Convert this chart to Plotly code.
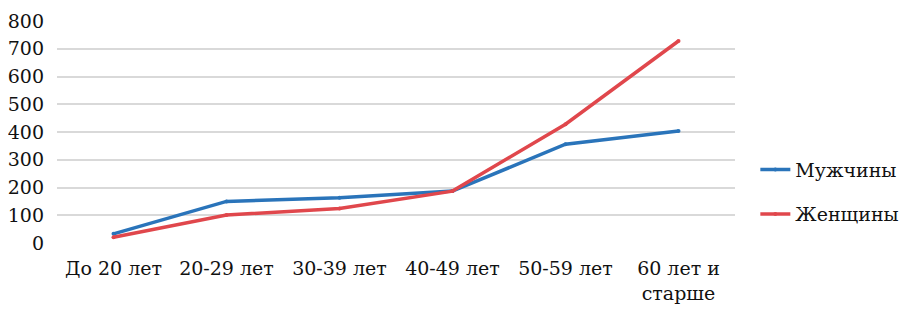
import plotly.graph_objects as go

categories = ["До 20 лет", "20-29 лет", "30-39 лет", "40-49 лет", "50-59 лет", "60 лет и<br>старше"]
men = [33, 150, 163, 187, 356, 404]
women = [21, 101, 124, 187, 428, 728]
y_ticks = [0, 100, 200, 300, 400, 500, 600, 700, 800]

SERIF = "DejaVu Serif"

fig = go.Figure()
fig.add_trace(go.Scatter(x=categories, y=men, name="Мужчины", mode="lines+markers",
                         line=dict(color="#2A74BA", width=3.5), marker=dict(size=4),
                         legend="legend", showlegend=True))
fig.add_trace(go.Scatter(x=categories, y=women, name="Женщины", mode="lines+markers",
                         line=dict(color="#E0474C", width=3.5), marker=dict(size=4),
                         legend="legend2", showlegend=True))

legend_common = dict(xanchor="left", yanchor="middle", font=dict(family=SERIF, size=19, color="#111111"),
                     bgcolor="rgba(0,0,0,0)", itemwidth=30, visible=True)
fig.update_layout(
    width=907, height=308,
    showlegend=True,
    margin=dict(l=49, r=180, t=13, b=73, autoexpand=False),
    paper_bgcolor="white", plot_bgcolor="white",
    font=dict(family=SERIF, size=19, color="#111111"),
    legend=dict(x=1.03, y=0.33, **legend_common),
    legend2=dict(x=1.03, y=0.13, **legend_common),
    xaxis=dict(showgrid=False, showline=False, ticks="", range=[-0.5, 5.5], automargin=False,
               ticklabelstandoff=12, tickfont=dict(family=SERIF, size=19)),
    yaxis=dict(range=[0, 800], tickvals=y_ticks, showgrid=True, gridcolor="#D9D9D9", automargin=False,
               ticklabelstandoff=12, gridwidth=1.5, zeroline=False, ticks="",
               tickfont=dict(family=SERIF, size=19)),
)
fig.write_html("out.html")
